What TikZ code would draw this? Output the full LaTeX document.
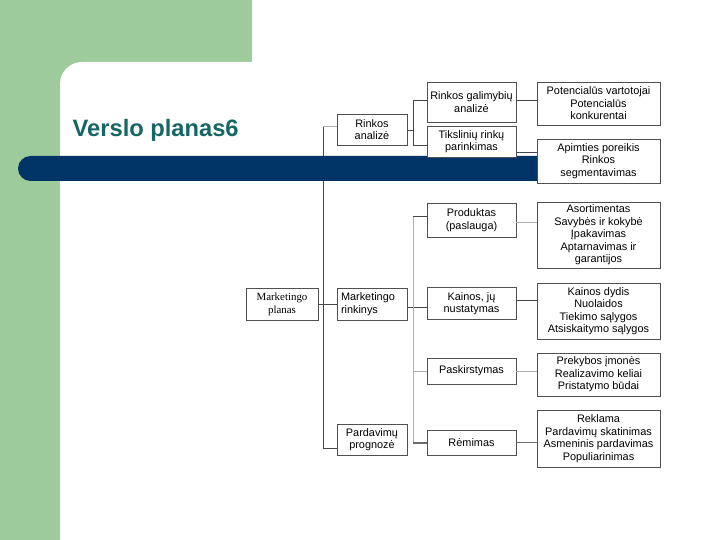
\documentclass[tikz,border=0pt]{standalone}
\usepackage{fontspec}
\setmainfont{Liberation Sans}
\newfontfamily\serifx{Liberation Serif}
\usetikzlibrary{calc}
\definecolor{greenbg}{RGB}{157,203,155}
\definecolor{navybar}{RGB}{0,51,102}
\definecolor{titleteal}{RGB}{22,102,100}
\definecolor{boxline}{RGB}{80,80,80}
\definecolor{darkln}{RGB}{70,70,70}
\definecolor{lightln}{RGB}{175,175,175}
\begin{document}
\begin{tikzpicture}[x=1pt,y=-1pt,
  box/.style={draw=boxline, line width=0.8pt, fill=white, align=center,
    font=\fontsize{10.9}{12.5}\selectfont, inner sep=1pt},
  rbox/.style={box, minimum width=123pt},
  mbox/.style={box, minimum width=89pt},
  lbox/.style={box, minimum width=70pt},
  dln/.style={draw=darkln, line width=0.8pt},
  lln/.style={draw=lightln, line width=0.8pt},
  tln/.style={draw=darkln!80, line width=1.8pt}]
\useasboundingbox (0,0) rectangle (720,540);
% background
\fill[greenbg] (0,0) rectangle (252,540);
\fill[white] (60,545) [rounded corners=22pt]-- (60,62) [sharp corners]-- (725,62) -- (725,545) -- cycle;
\node[anchor=base west, inner sep=0, text=titleteal, font=\bfseries\fontsize{23.7}{28}\selectfont] (title) at (72.5,137) {Verslo planas6};
% coordinates for spines
\coordinate (s1a) at (323,126);
\coordinate (s1b) at (323,448);
\coordinate (s2a) at (413,216);
\coordinate (s2b) at (413,443);
\coordinate (s3m) at (413,130);
\coordinate (s3a) at (413,100);
\coordinate (s3b) at (413,145);
\coordinate (mrk) at (407,307);
% nodes
\node[box, minimum width=72pt, minimum height=32pt, font=\serifx\fontsize{10.9}{13}\selectfont] (mp) at (282,304) {Marketingo\\planas};
\node[lbox, minimum height=31pt] (ra) at (372,129.5) {Rinkos\\analizė};
\node[lbox, minimum height=32pt, align=left, text width=62pt] (mr) at (372,304) {Marketingo\\rinkinys};
\node[lbox, minimum height=31pt] (pp) at (372,439.5) {Pardavimų\\prognozė};
\node[mbox, minimum height=40pt] (rg) at (471.5,102) {Rinkos galimybių\\analizė};
\node[mbox, minimum height=34pt] (pr) at (471.5,220) {Produktas\\(paslauga)};
\node[mbox, minimum height=32pt] (kn) at (471.5,303.5) {Kainos, jų\\nustatymas};
\node[mbox, minimum height=26pt] (ps) at (471.5,371) {Paskirstymas};
\node[mbox, minimum height=25pt] (rm) at (471.5,442.5) {Rėmimas};
\node[rbox, minimum height=43pt] (pv) at (598.5,103.5) {Potencialūs vartotojai\\Potencialūs\\konkurentai};
\node[rbox, minimum height=66pt] (as) at (598.5,235) {Asortimentas\\Savybės ir kokybė\\Įpakavimas\\Aptarnavimas ir\\garantijos};
\node[rbox, minimum height=56pt] (kd) at (598.5,311) {Kainos dydis\\Nuolaidos\\Tiekimo sąlygos\\Atsiskaitymo sąlygos};
\node[rbox, minimum height=43pt] (pk) at (598.5,374.5) {Prekybos įmonės\\Realizavimo keliai\\Pristatymo būdai};
\node[rbox, minimum height=57pt] (rk) at (598.5,438.5) {Reklama\\Pardavimų skatinimas\\Asmeninis pardavimas\\Populiarinimas};
% connectors
\draw[dln] (s1a) -- (s1b);
\draw[lln] (s1a) -- (s1a -| ra.west);
\draw[dln] (s1b) -- (s1b -| pp.west);
\draw[dln] (mp.east) -- (mr.west);
\draw[dln] (mrk) -- (mrk -| kn.west);
\draw[lln] (s2a) -- (s2b);
\draw[dln] (s2a) -- (s2a -| pr.west);
\draw[lln] (ps.west -| s2a) -- (ps.west);
\draw[tln] (s2b) -- (s2b -| rm.west);
\draw[dln] (ra.east |- s3m) -- (s3m);
\draw[dln] (s3a) -- (s3b);
\draw[dln] (s3a) -- (s3a -| rg.west);
\draw[dln] (s3b) -- (s3b -| rg.west);
\draw[dln] (rg.east |- 0,100) -- (pv.west |- 0,100);
\draw[lln] (pr.east |- 0,222) -- (as.west |- 0,222);
\draw[dln] (kn.east |- 0,300) -- (kd.west |- 0,300);
\draw[lln] (ps.east) -- (ps.east -| pk.west);
\draw[tln] (rm.east) -- (rm.east -| rk.west);
% blue bar
\fill[navybar, rounded corners=12.5pt] (18,156) rectangle (600,181);
% boxes above the bar
\node[mbox, minimum height=31pt] (tr) at (471.5,141.5) {Tikslinių rinkų\\parinkimas};
\node[rbox, minimum height=44pt] (ap) at (598.5,161) {Apimties poreikis\\Rinkos\\segmentavimas};
\coordinate (trap) at (516,152);
\draw[dln] (trap) -- (trap -| ap.west);
\end{tikzpicture}
\end{document}
